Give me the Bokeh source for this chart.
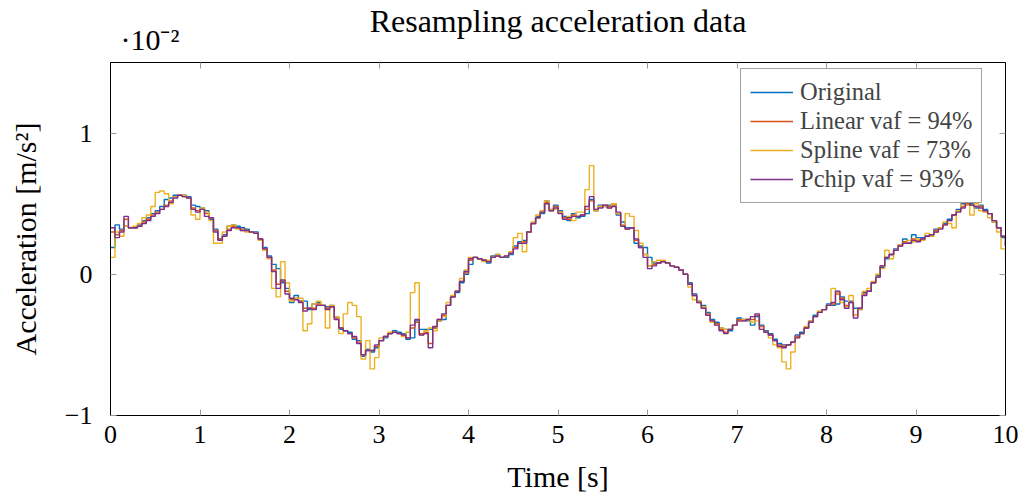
from bokeh.plotting import figure
from bokeh.models import ColumnDataSource, FixedTicker, LinearAxis, Title, Range1d
from bokeh.embed import file_html
from bokeh.resources import INLINE

# sample times (s), one value every 0.05 s
time_s = [round(0.05 * k, 2) for k in range(201)]

# acceleration in units of 1e-2 m/s^2
original = [
    0.19, 0.35, 0.32, 0.34, 0.33, 0.33, 0.35, 0.38, 0.40, 0.43,
    0.45, 0.48, 0.53, 0.54, 0.56, 0.56, 0.56, 0.55, 0.49, 0.48,
    0.47, 0.45, 0.39, 0.32, 0.25, 0.28, 0.34, 0.35, 0.34, 0.33,
    0.32, 0.30, 0.30, 0.25, 0.19, 0.13, 0.07, 0.04, -0.06, -0.10,
    -0.20, -0.15, -0.19, -0.19, -0.25, -0.21, -0.20, -0.22, -0.23, -0.22,
    -0.30, -0.39, -0.40, -0.41, -0.46, -0.47, -0.58, -0.53, -0.55, -0.52,
    -0.47, -0.45, -0.42, -0.40, -0.41, -0.42, -0.46, -0.45, -0.33, -0.39,
    -0.39, -0.39, -0.38, -0.33, -0.32, -0.22, -0.16, -0.13, -0.06, 0.00,
    0.07, 0.12, 0.11, 0.10, 0.08, 0.13, 0.14, 0.12, 0.12, 0.14,
    0.20, 0.23, 0.24, 0.30, 0.36, 0.41, 0.43, 0.52, 0.46, 0.49,
    0.45, 0.41, 0.38, 0.43, 0.40, 0.41, 0.43, 0.53, 0.45, 0.49,
    0.48, 0.49, 0.50, 0.42, 0.37, 0.33, 0.33, 0.22, 0.20, 0.19,
    0.12, 0.08, 0.08, 0.09, 0.08, 0.06, 0.05, 0.03, 0.00, -0.06,
    -0.14, -0.19, -0.22, -0.27, -0.32, -0.34, -0.38, -0.39, -0.40, -0.36,
    -0.31, -0.32, -0.33, -0.36, -0.30, -0.36, -0.40, -0.42, -0.46, -0.49,
    -0.50, -0.50, -0.48, -0.43, -0.41, -0.38, -0.33, -0.29, -0.27, -0.25,
    -0.21, -0.22, -0.21, -0.16, -0.19, -0.19, -0.24, -0.25, -0.13, -0.12,
    -0.06, -0.01, 0.05, 0.11, 0.14, 0.18, 0.21, 0.25, 0.22, 0.28,
    0.26, 0.26, 0.27, 0.28, 0.32, 0.33, 0.36, 0.39, 0.42, 0.46,
    0.50, 0.49, 0.50, 0.47, 0.49, 0.46, 0.43, 0.37, 0.33, 0.26,
    0.20,
]

linear = [
    0.30, 0.28, 0.31, 0.39, 0.33, 0.33, 0.34, 0.37, 0.39, 0.42,
    0.44, 0.46, 0.49, 0.52, 0.55, 0.56, 0.55, 0.54, 0.47, 0.45,
    0.46, 0.43, 0.40, 0.31, 0.25, 0.27, 0.32, 0.34, 0.33, 0.32,
    0.31, 0.30, 0.29, 0.25, 0.18, 0.12, 0.03, -0.07, -0.05, -0.12,
    -0.18, -0.17, -0.19, -0.24, -0.24, -0.24, -0.21, -0.22, -0.24, -0.23,
    -0.31, -0.38, -0.40, -0.42, -0.45, -0.48, -0.57, -0.54, -0.54, -0.51,
    -0.47, -0.44, -0.42, -0.41, -0.42, -0.43, -0.45, -0.38, -0.34, -0.42,
    -0.41, -0.49, -0.38, -0.32, -0.29, -0.22, -0.16, -0.12, -0.05, 0.01,
    0.10, 0.12, 0.11, 0.10, 0.09, 0.12, 0.13, 0.12, 0.13, 0.15,
    0.19, 0.22, 0.23, 0.30, 0.36, 0.40, 0.44, 0.51, 0.45, 0.48,
    0.44, 0.40, 0.39, 0.42, 0.41, 0.42, 0.46, 0.52, 0.46, 0.48,
    0.49, 0.48, 0.49, 0.43, 0.35, 0.32, 0.33, 0.24, 0.19, 0.14,
    0.06, 0.07, 0.08, 0.09, 0.08, 0.06, 0.05, 0.03, 0.00, -0.07,
    -0.15, -0.20, -0.23, -0.28, -0.33, -0.35, -0.39, -0.41, -0.39, -0.36,
    -0.32, -0.33, -0.32, -0.32, -0.29, -0.37, -0.41, -0.43, -0.47, -0.50,
    -0.51, -0.50, -0.48, -0.44, -0.42, -0.38, -0.34, -0.30, -0.27, -0.25,
    -0.22, -0.21, -0.14, -0.17, -0.22, -0.20, -0.29, -0.24, -0.14, -0.12,
    -0.06, -0.02, 0.06, 0.12, 0.14, 0.17, 0.20, 0.23, 0.22, 0.25,
    0.24, 0.25, 0.27, 0.28, 0.31, 0.33, 0.35, 0.38, 0.42, 0.45,
    0.48, 0.50, 0.49, 0.48, 0.48, 0.45, 0.43, 0.38, 0.33, 0.27,
    0.20,
]

spline = [
    0.12, 0.30, 0.27, 0.34, 0.33, 0.34, 0.36, 0.40, 0.42, 0.48,
    0.58, 0.59, 0.57, 0.50, 0.55, 0.56, 0.56, 0.54, 0.42, 0.39,
    0.47, 0.44, 0.38, 0.22, 0.22, 0.30, 0.34, 0.35, 0.32, 0.31,
    0.30, 0.30, 0.29, 0.24, 0.17, 0.11, -0.10, -0.16, 0.09, -0.06,
    -0.19, -0.17, -0.17, -0.40, -0.35, -0.21, -0.19, -0.22, -0.38, -0.22,
    -0.30, -0.42, -0.28, -0.20, -0.22, -0.30, -0.60, -0.47, -0.67, -0.59,
    -0.45, -0.44, -0.41, -0.41, -0.42, -0.44, -0.41, -0.13, -0.06, -0.43,
    -0.40, -0.38, -0.40, -0.33, -0.30, -0.20, -0.15, -0.12, -0.03, 0.03,
    0.12, 0.12, 0.11, 0.09, 0.10, 0.12, 0.14, 0.12, 0.13, 0.16,
    0.26, 0.29, 0.16, 0.30, 0.37, 0.42, 0.45, 0.52, 0.46, 0.46,
    0.44, 0.39, 0.41, 0.38, 0.44, 0.44, 0.60, 0.77, 0.45, 0.48,
    0.48, 0.47, 0.50, 0.43, 0.35, 0.43, 0.41, 0.31, 0.22, 0.14,
    0.06, 0.09, 0.10, 0.10, 0.08, 0.06, 0.05, 0.03, 0.00, -0.09,
    -0.18, -0.19, -0.23, -0.29, -0.34, -0.36, -0.38, -0.39, -0.39, -0.36,
    -0.33, -0.32, -0.32, -0.34, -0.33, -0.39, -0.41, -0.45, -0.50, -0.52,
    -0.62, -0.67, -0.55, -0.45, -0.42, -0.37, -0.33, -0.30, -0.26, -0.25,
    -0.22, -0.10, -0.13, -0.20, -0.23, -0.15, -0.29, -0.25, -0.12, -0.10,
    -0.05, 0.00, 0.04, 0.17, 0.11, 0.17, 0.21, 0.22, 0.24, 0.23,
    0.25, 0.24, 0.29, 0.27, 0.30, 0.33, 0.37, 0.36, 0.33, 0.45,
    0.52, 0.49, 0.42, 0.50, 0.45, 0.44, 0.40, 0.37, 0.30, 0.18,
    0.10,
]

pchip = [
    0.33, 0.26, 0.30, 0.41, 0.33, 0.33, 0.34, 0.36, 0.38, 0.41,
    0.43, 0.46, 0.48, 0.51, 0.54, 0.56, 0.55, 0.54, 0.46, 0.44,
    0.46, 0.41, 0.40, 0.30, 0.24, 0.27, 0.31, 0.33, 0.33, 0.31,
    0.31, 0.30, 0.29, 0.25, 0.18, 0.12, 0.02, -0.10, -0.04, -0.14,
    -0.17, -0.18, -0.20, -0.26, -0.24, -0.25, -0.22, -0.22, -0.25, -0.23,
    -0.32, -0.38, -0.40, -0.42, -0.44, -0.49, -0.57, -0.54, -0.54, -0.50,
    -0.47, -0.44, -0.42, -0.41, -0.42, -0.43, -0.45, -0.36, -0.32, -0.43,
    -0.42, -0.52, -0.37, -0.32, -0.28, -0.22, -0.16, -0.12, -0.05, 0.02,
    0.11, 0.12, 0.11, 0.10, 0.09, 0.12, 0.13, 0.12, 0.13, 0.15,
    0.18, 0.22, 0.22, 0.30, 0.36, 0.40, 0.44, 0.50, 0.45, 0.47,
    0.43, 0.39, 0.40, 0.41, 0.41, 0.42, 0.48, 0.55, 0.46, 0.47,
    0.49, 0.47, 0.48, 0.44, 0.34, 0.32, 0.33, 0.25, 0.19, 0.12,
    0.04, 0.06, 0.08, 0.09, 0.08, 0.06, 0.05, 0.03, 0.00, -0.07,
    -0.15, -0.20, -0.24, -0.29, -0.33, -0.36, -0.40, -0.42, -0.39, -0.36,
    -0.33, -0.33, -0.32, -0.30, -0.28, -0.39, -0.41, -0.43, -0.47, -0.51,
    -0.52, -0.50, -0.48, -0.45, -0.42, -0.38, -0.34, -0.30, -0.27, -0.25,
    -0.22, -0.20, -0.12, -0.18, -0.24, -0.20, -0.31, -0.24, -0.15, -0.12,
    -0.06, -0.02, 0.06, 0.12, 0.14, 0.17, 0.20, 0.22, 0.22, 0.24,
    0.23, 0.25, 0.27, 0.28, 0.30, 0.32, 0.35, 0.38, 0.42, 0.44,
    0.47, 0.51, 0.49, 0.48, 0.47, 0.45, 0.43, 0.38, 0.33, 0.27,
    0.20,
]

series_labels = ["Original", "Linear vaf = 94%", "Spline vaf = 73%", "Pchip vaf = 93%"]
series_colors = ["#0072BD", "#D95319", "#EDB120", "#7E2F8E"]
x_ticks = list(range(11))
y_ticks = [-1, 0, 1]

FONT = "Liberation Serif"

src = ColumnDataSource(dict(t=time_s, original=original, linear=linear,
                            spline=spline, pchip=pchip))

p = figure(width=1022, height=496, output_backend="svg", toolbar_location=None,
           x_range=Range1d(0, 10), y_range=Range1d(-1, 1.5),
           min_border_left=110, min_border_right=17,
           min_border_top=62, min_border_bottom=81)
p.background_fill_color = "white"
p.border_fill_color = "white"
p.outline_line_color = "black"
p.outline_line_width = 1
p.grid.visible = False

for col, lab, colr in zip(["original", "linear", "spline", "pchip"], series_labels, series_colors):
    p.step(x="t", y=col, source=src, mode="after", line_color=colr,
           line_width=1.4, legend_label=lab)

def style_axis(ax, ticks, show_labels):
    ax.ticker = FixedTicker(ticks=ticks)
    ax.major_tick_in = 6
    ax.major_tick_out = 0
    ax.minor_tick_line_color = None
    ax.major_tick_line_color = "#9a9a9a"
    ax.axis_line_color = "black"
    ax.major_label_text_font = FONT
    if show_labels:
        ax.major_label_text_font_size = "26px"
        ax.major_label_text_color = "black"
    else:
        ax.major_label_text_font_size = "0px"
        ax.major_label_text_color = None
        ax.major_label_standoff = 0
    ax.axis_label_text_font = FONT
    ax.axis_label_text_font_size = "30px"
    ax.axis_label_text_font_style = "normal"
    ax.axis_label_text_color = "black"

xb = p.xaxis[0]
style_axis(xb, x_ticks, True)
xb.axis_label = "Time [s]"
xb.major_label_standoff = 10
xb.axis_label_standoff = 14

yl = p.yaxis[0]
style_axis(yl, y_ticks, True)
yl.axis_label = "Acceleration [m/s²]"
yl.major_label_overrides = {-1: "−1", 0: "0", 1: "1"}
yl.major_label_standoff = 18
yl.axis_label_standoff = 20

xt = LinearAxis()
style_axis(xt, x_ticks, False)
p.add_layout(xt, "above")
yr = LinearAxis()
style_axis(yr, y_ticks, False)
p.add_layout(yr, "right")

# scale factor shown above the y axis
p.add_layout(Title(text="·10⁻²", align="left", offset=10, text_font=FONT,
                   text_font_size="30px", text_font_style="normal",
                   text_color="black", standoff=13), "above")

# main title, pulled down next to the scale factor
p.title.text = "Resampling acceleration data"
p.title.align = "center"
p.title.text_font = FONT
p.title.text_font_size = "32px"
p.title.text_font_style = "normal"
p.title.text_color = "black"
p.title.standoff = -48

lg = p.legend[0]
lg.location = (630, 212)
lg.label_text_font = FONT
lg.label_text_font_size = "24.5px"
lg.glyph_width = 43
lg.glyph_height = 20
lg.label_height = 20
lg.label_standoff = 7
lg.spacing = 1
lg.padding = 9
lg.margin = 0
lg.border_line_color = "#444444"
lg.border_line_width = 1
lg.background_fill_color = "white"
lg.background_fill_alpha = 1

open("out.html", "w").write(file_html(p, INLINE))
